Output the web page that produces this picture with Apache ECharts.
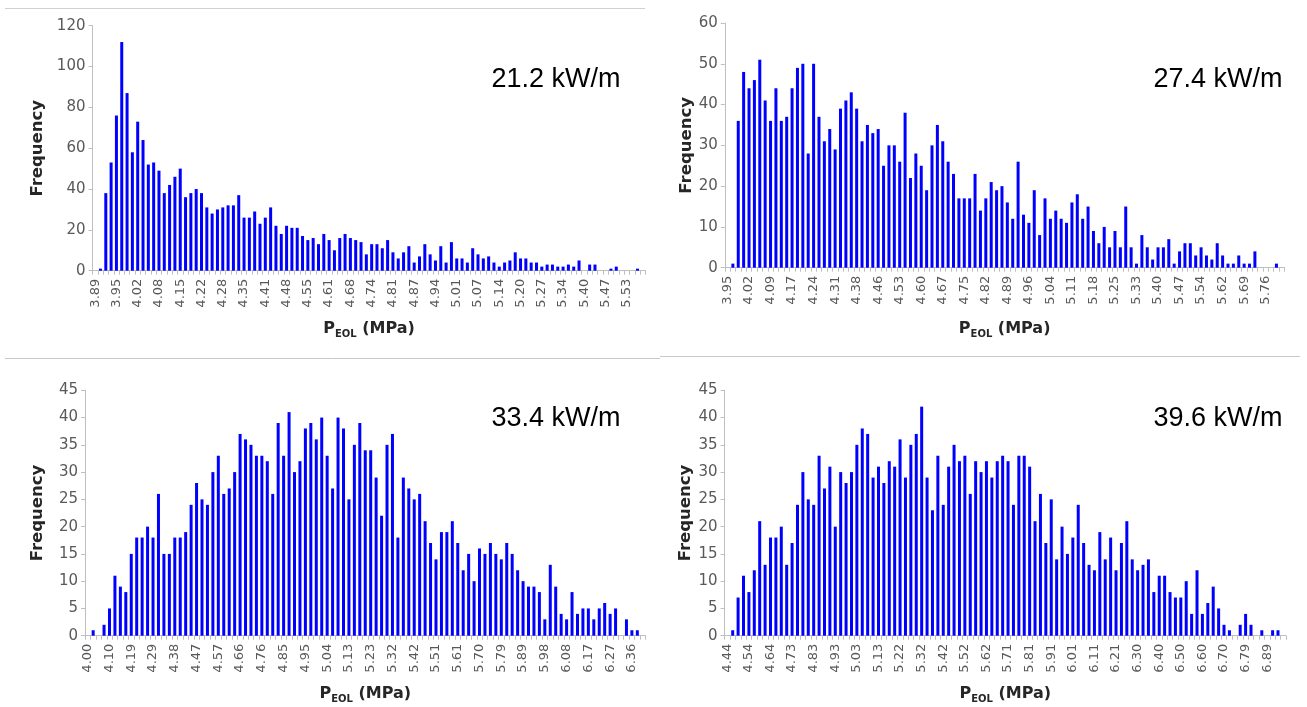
<!DOCTYPE html>
<html><head><meta charset="utf-8">
<script src="https://cdn.jsdelivr.net/npm/echarts@6/dist/echarts.min.js"></script>
<style>html,body{margin:0;padding:0;background:#fff}#c{width:1307px;height:707px}</style>
</head><body><div id="c"></div>
<script>
// ---- data ----
const ticks1 = ['3.89','3.95','4.02','4.08','4.15','4.22','4.28','4.35','4.41','4.48','4.55','4.61','4.68','4.74','4.81','4.87','4.94','5.01','5.07','5.14','5.20','5.27','5.34','5.40','5.47','5.53'];
const counts1 = [0,1,38,53,76,112,87,58,73,64,
 52,53,49,38,42,46,50,36,38,40,
 38,31,28,30,31,32,32,37,26,26,
 29,23,26,31,22,18,22,21,21,17,
 15,16,13,18,15,10,16,18,16,15,
 14,8,13,13,11,15,9,6,9,12,
 4,7,13,8,5,12,4,14,6,6,
 4,11,8,6,7,4,2,4,5,9,
 6,6,4,4,2,3,3,2,2,3,
 2,5,0,3,3,0,0,1,2,0,
 0,0,1,0];

const ticks2 = ['3.95','4.02','4.09','4.17','4.24','4.31','4.38','4.46','4.53','4.60','4.67','4.75','4.82','4.89','4.96','5.04','5.11','5.18','5.25','5.33','5.40','5.47','5.54','5.62','5.69','5.76'];
const counts2 = [0,1,36,48,44,46,51,41,36,44,
 36,37,44,49,50,28,50,37,31,34,
 29,39,41,43,39,31,35,33,34,25,
 30,30,26,38,22,28,25,19,30,35,
 31,26,23,17,17,17,23,14,17,21,
 19,20,16,12,26,13,11,19,8,17,
 12,14,12,11,16,18,12,15,9,6,
 10,5,9,5,15,5,1,8,5,2,
 5,5,7,1,4,6,6,3,5,3,
 2,6,3,1,1,3,1,1,4,0,
 0,0,1,0];

const ticks3 = ['4.00','4.10','4.19','4.29','4.38','4.47','4.57','4.66','4.76','4.85','4.95','5.04','5.13','5.23','5.32','5.42','5.51','5.61','5.70','5.79','5.89','5.98','6.08','6.17','6.27','6.36'];
const counts3 = [0,1,0,2,5,11,9,8,15,18,
 18,20,18,26,15,15,18,18,19,24,
 28,25,24,30,33,26,27,30,37,36,
 35,33,33,32,26,39,33,41,30,32,
 38,39,36,40,33,27,40,38,25,35,
 39,34,34,29,22,35,37,18,29,27,
 25,26,21,17,14,19,19,21,17,12,
 15,10,16,15,17,15,14,17,15,12,
 10,9,9,8,3,13,9,4,3,8,
 4,5,5,3,5,6,4,5,0,3,
 1,1,0];

const ticks4 = ['4.44','4.54','4.64','4.73','4.83','4.93','5.03','5.13','5.22','5.32','5.42','5.52','5.62','5.71','5.81','5.91','6.01','6.11','6.21','6.30','6.40','6.50','6.60','6.70','6.79','6.89'];
const counts4 = [0,1,7,11,8,12,21,13,18,18,
 20,13,17,24,30,25,24,33,27,31,
 20,30,28,30,35,38,37,29,31,28,
 32,31,36,29,35,37,42,29,23,33,
 24,31,35,32,33,26,32,30,32,29,
 32,33,32,24,33,33,31,21,26,17,
 25,14,20,15,18,24,17,13,12,19,
 14,18,12,17,21,14,12,13,14,8,
 11,11,8,7,7,10,4,12,4,6,
 9,5,2,1,0,2,4,2,0,1,
 0,1,1,0];

const powers = ['21.2 kW/m','27.4 kW/m','33.4 kW/m','39.6 kW/m'];
const yMax = [120, 60, 45, 45];
const yStep = [20, 10, 5, 5];
const LABEL_EVERY = 4;

// ---- layout ----
const FONT = 'DejaVu Sans';
const panels = [
  {ticks: ticks1, counts: counts1, grid: {left: 92.5, top: 25.7, width: 553, height: 245}, yGap: 46, xGap: 47, text: [556, 80]},
  {ticks: ticks2, counts: counts2, grid: {left: 724.8, top: 23, width: 559.7, height: 244.7}, yGap: 29, xGap: 50, text: [1218, 80]},
  {ticks: ticks3, counts: counts3, grid: {left: 85, top: 390.3, width: 560.5, height: 245.4}, yGap: 39, xGap: 47, text: [556, 419]},
  {ticks: ticks4, counts: counts4, grid: {left: 724.6, top: 390.3, width: 561.5, height: 245.4}, yGap: 29, xGap: 47, text: [1218, 419]}
];

const grids = [], xAxes = [], yAxes = [], series = [], graphics = [];
panels.forEach((p, k) => {
  const cats = p.counts.map((_, i) => (i % LABEL_EVERY === 0 && p.ticks[i / LABEL_EVERY] !== undefined) ? p.ticks[i / LABEL_EVERY] : '');
  grids.push(Object.assign({containLabel: false}, p.grid));
  xAxes.push({
    type: 'category', gridIndex: k, data: cats, boundaryGap: true,
    axisLine: {lineStyle: {color: '#bfbfbf', width: 1}},
    axisTick: {show: true, interval: 0, length: 4, lineStyle: {color: '#bfbfbf'}},
    axisLabel: {interval: LABEL_EVERY - 1, rotate: 90, margin: 8, fontFamily: FONT, fontSize: 13, color: '#595959'},
    name: '{b|P}{s|EOL}{b| (MPa)}', nameLocation: 'middle', nameGap: p.xGap,
    nameTextStyle: {rich: {
      b: {fontFamily: FONT, fontWeight: 'bold', fontSize: 16, color: '#262626', lineHeight: 22},
      s: {fontFamily: FONT, fontWeight: 'bold', fontSize: 10, color: '#262626', verticalAlign: 'bottom', lineHeight: 13}
    }}
  });
  yAxes.push({
    type: 'value', gridIndex: k, min: 0, max: yMax[k], interval: yStep[k],
    axisLine: {show: true, lineStyle: {color: '#bfbfbf'}},
    axisTick: {show: true, length: 4, lineStyle: {color: '#bfbfbf'}},
    splitLine: {show: false},
    axisLabel: {fontFamily: FONT, fontSize: 15, color: '#595959', margin: 7},
    name: 'Frequency', nameLocation: 'middle', nameGap: p.yGap, nameRotate: 90,
    nameTextStyle: {fontFamily: FONT, fontWeight: 'bold', fontSize: 16.5, color: '#262626'}
  });
  series.push({
    type: 'bar', xAxisIndex: k, yAxisIndex: k, data: p.counts, barWidth: 3,
    itemStyle: {color: '#0000ff'}, silent: true, animation: false
  });
  graphics.push({
    type: 'text', x: p.text[0], y: p.text[1],
    style: {text: powers[k], fill: '#000', font: '27px "Liberation Sans"', textAlign: 'center', textVerticalAlign: 'middle'}
  });
});

// faint borders of the four original picture panels
graphics.push({type: 'line', shape: {x1: 5, y1: 8.5, x2: 645, y2: 8.5}, style: {stroke: '#d0d0d0', lineWidth: 1}});
graphics.push({type: 'line', shape: {x1: 5, y1: 358.5, x2: 660, y2: 358.5}, style: {stroke: '#c8c8c8', lineWidth: 1}});
graphics.push({type: 'line', shape: {x1: 660, y1: 356.5, x2: 1300, y2: 356.5}, style: {stroke: '#c8c8c8', lineWidth: 1}});

const chart = echarts.init(document.getElementById('c'), null, {renderer: 'canvas'});
chart.setOption({
  animation: false,
  backgroundColor: '#fff',
  grid: grids, xAxis: xAxes, yAxis: yAxes, series: series,
  graphic: graphics
});
</script>
</body></html>
